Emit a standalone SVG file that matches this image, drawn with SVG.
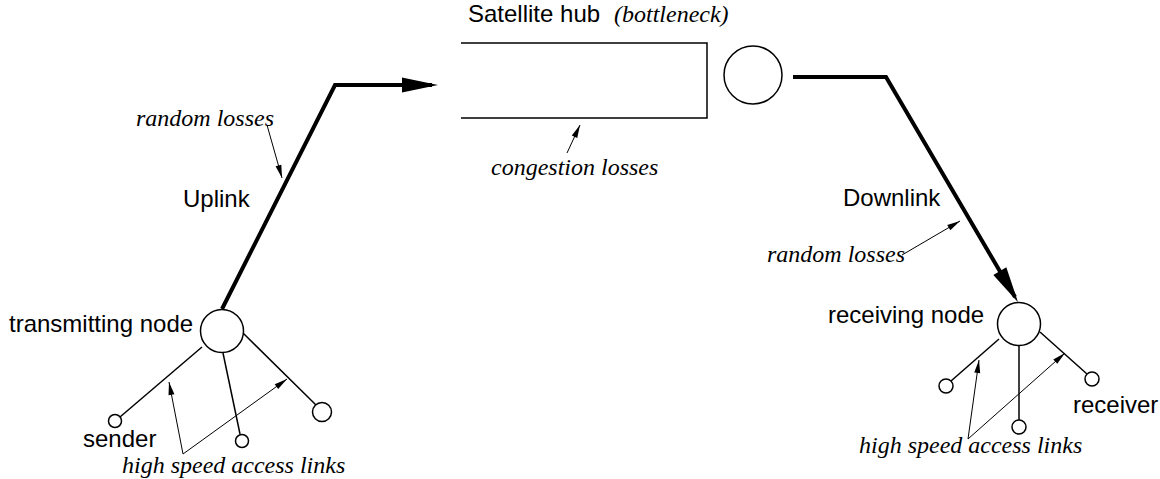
<svg xmlns="http://www.w3.org/2000/svg" width="1160" height="479" viewBox="0 0 1160 479">
<style>
.sans{font-family:"Liberation Sans",Arial,sans-serif;font-size:24px;fill:#000}
.it{font-family:"Liberation Serif","Times New Roman",serif;font-style:italic;font-size:24px;fill:#000}
.thick{fill:none;stroke:#000;stroke-width:4;stroke-linejoin:miter}
.thin{fill:none;stroke:#000;stroke-width:1.5}
.ann{fill:none;stroke:#000;stroke-width:1}
.node{fill:#fff;stroke:#000;stroke-width:1.5}
</style>
<defs>
<marker id="big" markerUnits="userSpaceOnUse" markerWidth="40" markerHeight="20" refX="30" refY="7.5" orient="auto" overflow="visible">
<path d="M0,0 L36,7.5 L0,15 z" fill="#000"/>
</marker>
<marker id="small" markerUnits="userSpaceOnUse" markerWidth="16" markerHeight="10" refX="13" refY="3" orient="auto" overflow="visible">
<path d="M0,0 L13,3 L0,6 z" fill="#000"/>
</marker>
</defs>
<g id="connectors">
<path class="thick" d="M222,309 L335,85 L432,85" marker-end="url(#big)"/>
<path class="thick" d="M793,77 L886,77 L1015,297" marker-end="url(#big)"/>
<line class="thin" x1="202" y1="347" x2="120" y2="417"/>
<line class="thin" x1="223" y1="353" x2="240" y2="434"/>
<line class="thin" x1="243" y1="333" x2="316" y2="405"/>
<line class="thin" x1="999" y1="339" x2="951" y2="381"/>
<line class="thin" x1="1019" y1="346" x2="1019" y2="420"/>
<line class="thin" x1="1040" y1="332" x2="1087" y2="374"/>
<line class="ann" x1="267" y1="125" x2="282" y2="178" marker-end="url(#small)"/>
<line class="ann" x1="567" y1="153" x2="580" y2="125" marker-end="url(#small)"/>
<line class="ann" x1="902" y1="255" x2="960" y2="221" marker-end="url(#small)"/>
<line class="ann" x1="183" y1="454" x2="169" y2="382" marker-end="url(#small)"/>
<line class="ann" x1="183" y1="454" x2="287" y2="379" marker-end="url(#small)"/>
<line class="ann" x1="968" y1="439" x2="979" y2="360" marker-end="url(#small)"/>
<line class="ann" x1="968" y1="439" x2="1065" y2="353" marker-end="url(#small)"/>
</g>
<g id="satellite-hub">
<path class="thin" d="M461,43 L707,43 L707,118 L461,118"/>
<text class="sans" x="468" y="22">Satellite hub</text>
<text class="it" x="614" y="22">(bottleneck)</text>
</g>
<g id="hub-server"><circle class="node" cx="753" cy="75" r="29"/></g>
<g id="transmitting-node">
<circle class="node" cx="222" cy="331" r="21.5"/>
<text class="sans" x="9" y="332">transmitting node</text>
</g>
<g id="sender"><circle class="node" cx="115" cy="421" r="6.5"/><text class="sans" x="83" y="447">sender</text></g>
<g id="source-2"><circle class="node" cx="242" cy="441" r="6.5"/></g>
<g id="source-3"><circle class="node" cx="322" cy="412" r="9.5"/></g>
<g id="receiving-node">
<circle class="node" cx="1019" cy="324" r="21.5"/>
<text class="sans" x="828" y="323">receiving node</text>
</g>
<g id="sink-1"><circle class="node" cx="946" cy="386" r="7"/></g>
<g id="sink-2"><circle class="node" cx="1019" cy="427" r="7"/></g>
<g id="receiver"><circle class="node" cx="1092" cy="379" r="7"/><text class="sans" x="1073" y="413">receiver</text></g>
<g id="labels">
<text class="sans" x="183" y="207">Uplink</text>
<text class="sans" x="843" y="206">Downlink</text>
<text class="it" x="136" y="126">random losses</text>
<text class="it" x="491" y="175">congestion losses</text>
<text class="it" x="767" y="262">random losses</text>
<text class="it" x="122" y="473">high speed access links</text>
<text class="it" x="859" y="453">high speed access links</text>
</g>
</svg>
